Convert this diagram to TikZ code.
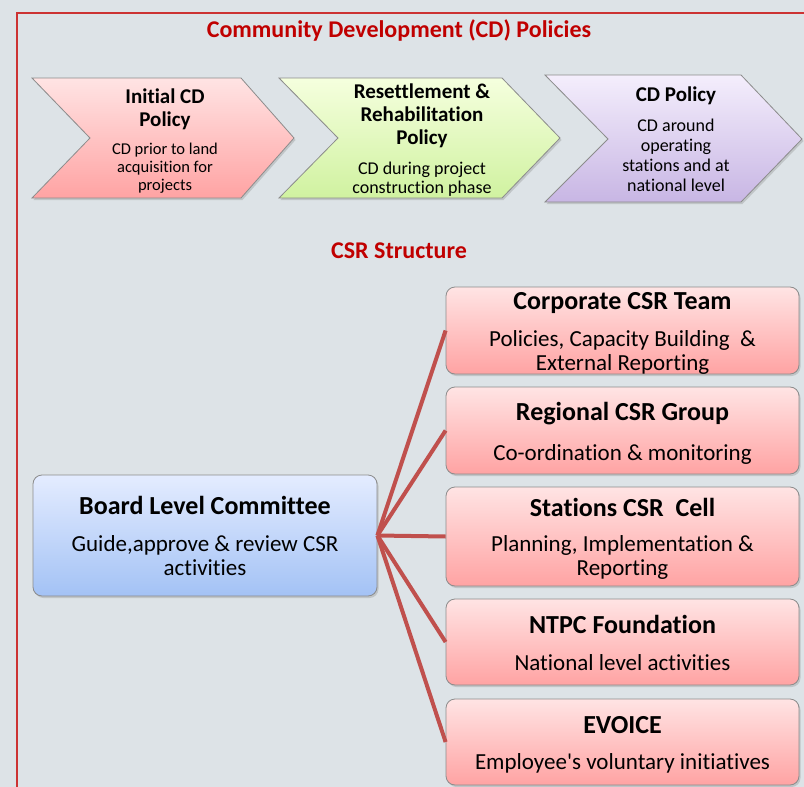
\documentclass[tikz,border=0pt]{standalone}
\usepackage{fontspec}
\setmainfont{Carlito}[Ligatures={CommonOff,TeXOff}]
\usetikzlibrary{shadows}
\definecolor{bg}{RGB}{221,227,231}
\definecolor{titlered}{RGB}{192,0,0}
\definecolor{framered}{RGB}{204,51,51}
\definecolor{conn}{RGB}{192,80,77}
\definecolor{edge}{RGB}{140,140,140}
\definecolor{pinkT}{RGB}{255,228,228}
\definecolor{pinkB}{RGB}{255,163,163}
\definecolor{greenT}{RGB}{245,255,222}
\definecolor{greenB}{RGB}{208,242,160}
\definecolor{purpT}{RGB}{244,238,252}
\definecolor{purpB}{RGB}{200,182,228}
\definecolor{blueT}{RGB}{228,236,255}
\definecolor{blueB}{RGB}{163,194,245}
\tikzset{
  chev/.style={draw=edge, line width=0.8pt, drop shadow={shadow xshift=1.5pt, shadow yshift=-2pt, opacity=0.3}},
  rbox/.style={draw=edge, line width=0.8pt, rounded corners=9pt, inner sep=0pt,
     drop shadow={shadow xshift=1.5pt, shadow yshift=-2pt, opacity=0.3}},
  pinkbox/.style={rbox, top color=pinkT, bottom color=pinkB, minimum width=353pt},
  heading/.style={text=titlered, font=\bfseries\fontsize{24}{28}\selectfont},
  chevtitle/.style={align=center, font=\bfseries\fontsize{21}{23}\selectfont},
  boxtitle/.style={anchor=base, font=\bfseries\fontsize{26}{30}\selectfont},
  boxtext/.style={align=center, font=\fontsize{23}{24}\selectfont},
  link/.style={conn, line width=4pt}
}
\begin{document}
\begin{tikzpicture}[x=1pt,y=-1pt]
\fill[bg] (0,0) rectangle (804,787);
\useasboundingbox (0,0) rectangle (804,787);
\draw[framered, line width=1.6pt] (17,800) -- (17,13) -- (810,13);

\node[heading, anchor=base] (h1) at (399,37) {Community Development (CD) Policies};

% chevrons
\shade[chev, top color=pinkT, bottom color=pinkB]
  (32,78) -- (241,78) -- (294,138) -- (241,198) -- (32,198) -- (90,138) -- cycle;
\shade[chev, top color=greenT, bottom color=greenB]
  (279,78) -- (502,78) -- (560,138) -- (502,198) -- (279,198) -- (338,138) -- cycle;
\shade[chev, top color=purpT, bottom color=purpB]
  (545,75) -- (741,75) -- (802,139) -- (741,202) -- (545,202) -- (608,139) -- cycle;

\node[chevtitle] (c1t) at (165,109) {Initial CD\\Policy};
\node[align=center, font=\fontsize{16.5}{18.3}\selectfont] (c1d) at (165,168) {CD prior to land\\acquisition for\\projects};
\node[chevtitle] (c2t) at (422,116) {Resettlement \&\\Rehabilitation\\Policy};
\node[align=center, font=\fontsize{18}{19.5}\selectfont] (c2d) at (422,179) {CD during project\\construction phase};
\node[chevtitle, anchor=base] (c3t) at (676,101) {CD Policy};
\node[align=center, font=\fontsize{18}{20}\selectfont] (c3d) at (676,155) {CD around\\operating\\stations and at\\national level};

\node[heading, anchor=base] (h2) at (399,258) {CSR Structure};

% board
\node[rbox, top color=blueT, bottom color=blueB, minimum width=344pt, minimum height=121pt] (board) at (205,535.5) {};
\node[boxtitle] (boardt) at (205,514) {Board Level Committee};
\node[boxtext] (boardd) at (205,556) {Guide,approve \& review CSR\\activities};

% right boxes
\node[pinkbox, minimum height=87pt] (b1) at (622.5,330.5) {};
\node[pinkbox, minimum height=87pt] (b2) at (622.5,430.5) {};
\node[pinkbox, minimum height=99pt] (b3) at (622.5,536.5) {};
\node[pinkbox, minimum height=86pt] (b4) at (622.5,642) {};
\node[pinkbox, minimum height=86pt] (b5) at (622.5,742) {};

\node[boxtitle] (b1t) at (622.5,309) {Corporate CSR Team};
\node[boxtext] (b1d) at (622.5,352) {Policies, Capacity Building\ \ \&\\External Reporting};
\node[boxtitle] (b2t) at (622.5,420) {Regional CSR Group};
\node[boxtext, anchor=base] (b2d) at (622.5,460) {Co-ordination \& monitoring};
\node[boxtitle] (b3t) at (622.5,516) {Stations CSR\ \ Cell};
\node[boxtext] (b3d) at (622.5,557) {Planning, Implementation \&\\Reporting};
\node[boxtitle] (b4t) at (622.5,633) {NTPC Foundation};
\node[boxtext, anchor=base] (b4d) at (622.5,670) {National level activities};
\node[boxtitle] (b5t) at (622.5,733) {EVOICE};
\node[boxtext, anchor=base] (b5d) at (622.5,769) {Employee's voluntary initiatives};

% connectors
\foreach \b in {b1,b2,b3,b4,b5}
  \draw[link] (board.east) -- (\b.west);
\end{tikzpicture}
\end{document}
